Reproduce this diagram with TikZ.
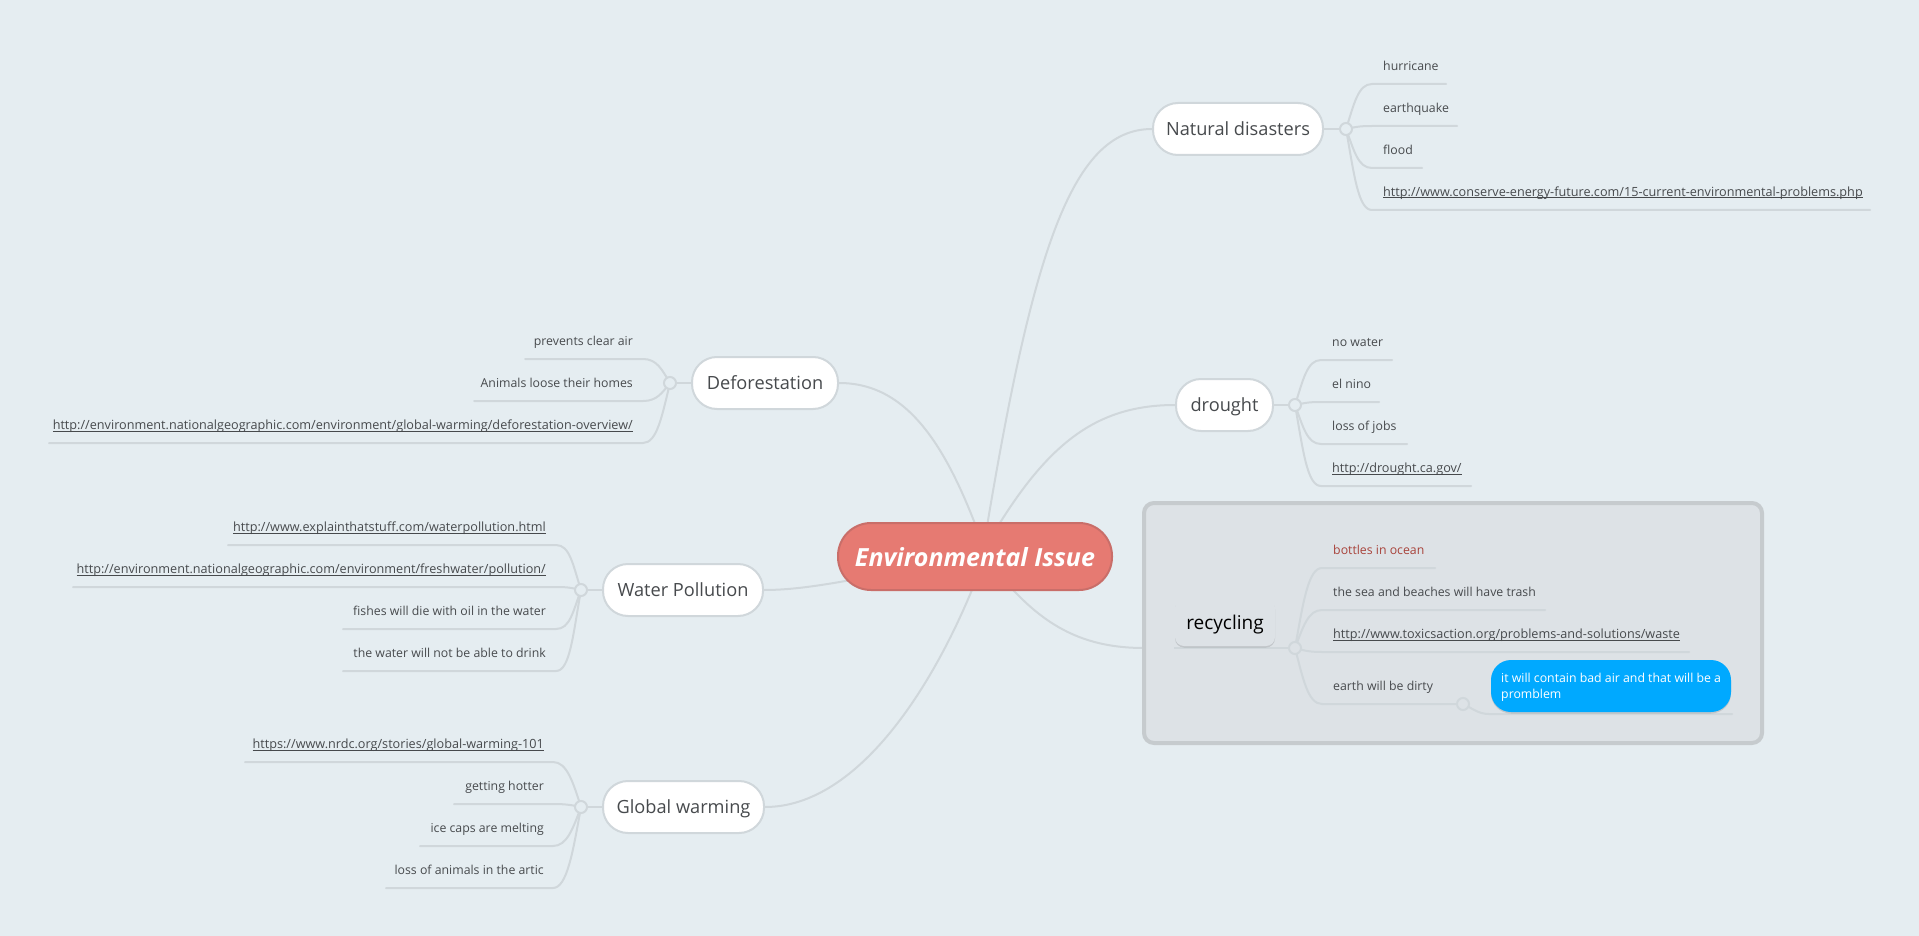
\documentclass[tikz,border=0pt]{standalone}
\usepackage{fontspec}
\setmainfont{Open Sans}
\usetikzlibrary{calc,shadows}
\definecolor{bgc}{HTML}{E5EDF1}
\definecolor{linec}{HTML}{D0D7DB}
\definecolor{txt}{HTML}{474A4D}
\definecolor{rootf}{HTML}{E67A72}
\definecolor{roots}{HTML}{C96E69}
\definecolor{boxf}{HTML}{DDE2E6}
\definecolor{boxs}{HTML}{C6CBCE}
\definecolor{bluef}{HTML}{00A9FF}
\definecolor{redt}{HTML}{A8433B}
\tikzset{
  conn/.style={draw=linec,line width=2pt,line cap=round},
  pill/.style={draw=linec,fill=white,line width=2pt,rounded corners=25pt,inner sep=0pt,text=txt,text height=13pt,text depth=0pt,font=\fontsize{18.2}{22}\selectfont},
  hubdot/.style={circle,draw=linec,fill=bgc,line width=2pt,minimum size=12pt,inner sep=0pt},
  leaf/.style={text=txt,font=\fontsize{12.3}{16}\selectfont,inner sep=0pt},
}
\newsavebox{\lnkbox}
\newcommand{\lnk}[1]{{\fontsize{12.65}{16}\selectfont\sbox{\lnkbox}{#1}\rlap{\rule[-1.8pt]{\wd\lnkbox}{0.8pt}}\usebox{\lnkbox}}}
% right-hand leaf: name, hub, x corner, y of line, x end, x text, text
\newcommand{\leafR}[7]{%
  \coordinate (#1c) at (#3,#4);
  \coordinate (#1e) at (#5,#4);
  \draw[conn] (#2) .. controls ($(#2)!0.55!(#2 |- #1c)+(8,0)$) and ($(#1c)+(-14,0)$) .. (#1c) -- (#1e);
  \node[leaf,anchor=base west] (#1) at (#6,#4-13.5) {#7};
}
% left-hand leaf
\newcommand{\leafL}[7]{%
  \coordinate (#1c) at (#3,#4);
  \coordinate (#1e) at (#5,#4);
  \draw[conn] (#2) .. controls ($(#2)!0.55!(#2 |- #1c)+(-8,0)$) and ($(#1c)+(14,0)$) .. (#1c) -- (#1e);
  \node[leaf,anchor=base east] (#1) at (#6,#4-13.5) {#7};
}
\begin{document}
\begin{tikzpicture}[x=1pt,y=-1pt]
\useasboundingbox (0,0) rectangle (1919,936);
\fill[bgc] (0,0) rectangle (1919,936);

% pills
\node[pill,minimum width=146pt,minimum height=52pt] (defo) at (765,383) {Deforestation};
\node[pill,minimum width=160pt,minimum height=52pt] (water) at (683,590) {Water Pollution};
\node[pill,minimum width=161pt,minimum height=52pt] (global) at (683.5,807) {Global warming};
\node[pill,minimum width=170pt,minimum height=52pt] (natural) at (1238,129) {Natural disasters};
\node[pill,minimum width=97pt,minimum height=52pt] (drought) at (1224.5,405) {drought};
\coordinate (root0) at (975,556.5);
\coordinate (recyin) at (1144,648);

% main branches
\draw[conn] ($(root0)+(7,0)$) .. controls (1031,256) and (1070,129) .. (natural.west);
\draw[conn] ($(root0)+(5,0)$) .. controls (1040,450) and (1090,405) .. (drought.west);
\draw[conn] ($(root0)+(12,0)$) .. controls (950,450) and (910,383) .. (defo.east);
\draw[conn] (root0) .. controls (860,578) and (810,590) .. (water.east);
\draw[conn] ($(root0)+(10,0)$) .. controls (940,680) and (860,807) .. (global.east);
\draw[conn] ($(root0)+(10,0)$) .. controls (1030,615) and (1070,648) .. (recyin);

% root
\node[draw=roots,fill=rootf,line width=2pt,rounded corners=33pt,minimum width=274pt,minimum height=67pt,inner sep=0pt,text=white,text height=19pt,text depth=0pt,font=\fontsize{25}{30}\selectfont\bfseries\itshape] (root) at (root0) {Environmental Issue};

% recycling box
\node[draw=boxs,fill=boxf,line width=4pt,rounded corners=10pt,minimum width=618pt,minimum height=240pt,inner sep=0pt] (recybox) at (1453,623) {};

% hubs positions
\coordinate (hD) at (670,383);
\coordinate (hW) at (581,590);
\coordinate (hG) at (581,807);
\coordinate (hN) at (1346,129);
\coordinate (hR) at (1295,405);
\coordinate (hC) at (1295,648);
\coordinate (hE) at (1463,704);

% Deforestation leaves
\leafL{d1}{hD}{643}{359}{525}{633}{prevents clear air}
\leafL{d2}{hD}{643}{401}{474}{633}{Animals loose their homes}
\leafL{d3}{hD}{643}{443}{49}{633}{\lnk{http://environment.nationalgeographic.com/environment/global-warming/deforestation-overview/}}
% Water leaves
\leafL{w1}{hW}{556}{545}{228}{546}{\lnk{http://www.explainthatstuff.com/waterpollution.html}}
\leafL{w2}{hW}{556}{587}{73}{546}{\lnk{http://environment.nationalgeographic.com/environment/freshwater/pollution/}}
\leafL{w3}{hW}{556}{629}{343}{546}{fishes will die with oil in the water}
\leafL{w4}{hW}{556}{671}{343}{546}{the water will not be able to drink}
% Global leaves
\leafL{g1}{hG}{553}{762}{245}{544}{\lnk{https://www.nrdc.org/stories/global-warming-101}}
\leafL{g2}{hG}{553}{804}{454}{544}{getting hotter}
\leafL{g3}{hG}{553}{846}{420}{544}{ice caps are melting}
\leafL{g4}{hG}{553}{888}{386}{544}{loss of animals in the artic}
% Natural leaves
\leafR{n1}{hN}{1372}{84}{1446}{1383}{hurricane}
\leafR{n2}{hN}{1372}{126}{1457}{1383}{earthquake}
\leafR{n3}{hN}{1372}{168}{1422}{1383}{flood}
\leafR{n4}{hN}{1372}{210}{1870}{1383}{\lnk{http://www.conserve-energy-future.com/15-current-environmental-problems.php}}
% Drought leaves
\leafR{r1}{hR}{1321}{360}{1392}{1332}{no water}
\leafR{r2}{hR}{1321}{402}{1379}{1332}{el nino}
\leafR{r3}{hR}{1321}{444}{1407}{1332}{loss of jobs}
\leafR{r4}{hR}{1321}{486}{1471}{1332}{\lnk{http://drought.ca.gov/}}
% Recycling leaves
\coordinate (recyl) at (1174,648);
\draw[conn,line cap=butt] (recyl) -- (hC);
\node[draw=none,fill=boxf,rounded corners=9pt,minimum width=100pt,minimum height=47pt,inner sep=0pt,text=black,text height=14pt,text depth=0pt,font=\fontsize{19}{23}\selectfont,drop shadow={shadow xshift=0pt,shadow yshift=-1.5pt,opacity=.12,fill=black}] (recy) at (1225,622.5) {recycling};
\leafR{c1}{hC}{1322}{568}{1435}{1333}{\textcolor{redt}{bottles in ocean}}
\leafR{c2}{hC}{1322}{610}{1545}{1333}{the sea and beaches will have trash}
\leafR{c3}{hC}{1322}{652}{1689}{1333}{\lnk{http://www.toxicsaction.org/problems-and-solutions/waste}}
\leafR{c4}{hC}{1322}{704}{1463}{1333}{earth will be dirty}
% second-level
\coordinate (bluel) at (1489,714);
\coordinate (bluer) at (1732,714);
\draw[conn] (hE) .. controls (1472,708) and (1478,714) .. (bluel) -- (bluer);
\node[draw=none,fill=bluef,rounded corners=20pt,minimum width=240pt,minimum height=52pt,inner sep=0pt,drop shadow={shadow xshift=0pt,shadow yshift=-1.5pt,opacity=.12,fill=black}] (blue) at (1611,686) {};
\node[anchor=base west,inner sep=0pt,text=white,font=\fontsize{12.3}{16.5}\selectfont,align=left] (bluet) at (1501,698.5) {it will contain bad air and that will be a\\promblem};

% stubs and hubs
\draw[conn,line cap=butt] (defo.west) -- (hD);
\draw[conn,line cap=butt] (water.west) -- (hW);
\draw[conn,line cap=butt] (global.west) -- (hG);
\draw[conn,line cap=butt] (natural.east) -- (hN);
\draw[conn,line cap=butt] (drought.east) -- (hR);
\node[hubdot] at (hD) {};
\node[hubdot] at (hW) {};
\node[hubdot] at (hG) {};
\node[hubdot] at (hN) {};
\node[hubdot] at (hR) {};
\node[hubdot,fill=boxf] at (hC) {};
\node[hubdot,fill=boxf] at (hE) {};
\end{tikzpicture}
\end{document}
